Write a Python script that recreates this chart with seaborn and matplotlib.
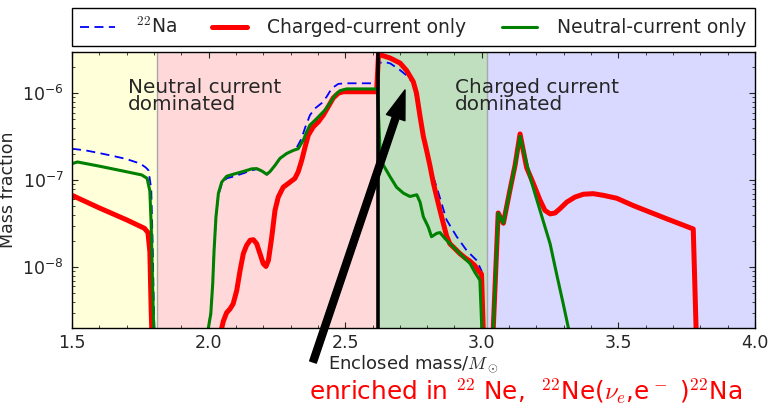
import matplotlib
matplotlib.use("Agg")
import matplotlib.pyplot as plt
import seaborn as sns
import numpy as np

# ---------------- data ----------------
na_mass = [1.50, 1.55, 1.60, 1.65, 1.70, 1.75, 1.77, 1.78, 1.79, 1.795, 1.80, 1.805, 1.81,
           1.99, 2.000, 2.008, 2.015, 2.020, 2.027, 2.036, 2.048, 2.066, 2.090, 2.127, 2.158,
           2.176, 2.194, 2.213, 2.225, 2.243, 2.261, 2.286, 2.310, 2.322, 2.340, 2.353, 2.371,
           2.390, 2.414, 2.432, 2.451, 2.475, 2.50, 2.615, 2.622, 2.64,
           2.665, 2.70, 2.725, 2.749, 2.768, 2.786, 2.804, 2.822, 2.835, 2.871, 2.908, 2.945,
           2.981, 2.999, 3.005, 3.01, 3.035, 3.042, 3.060, 3.079, 3.103, 3.122, 3.140, 3.164,
           3.189, 3.213, 3.231, 3.250, 3.268, 3.286, 3.311, 3.341, 3.372, 3.408, 3.445, 3.494,
           3.555, 3.677, 3.774, 3.787, 3.79, 4.0]
na_frac = [2.3e-7, 2.2e-7, 2.05e-7, 1.9e-7, 1.75e-7, 1.55e-7, 1.4e-7, 1.3e-7, 8e-8, 2e-8, 3e-9, 1e-9, 1e-12,
           1e-12, 2.0e-9, 3.2e-9, 7e-9, 1.6e-8, 3.8e-8, 6.8e-8, 9.0e-8, 1.05e-7, 1.1e-7, 1.2e-7, 1.3e-7,
           1.34e-7, 1.27e-7, 1.16e-7, 1.25e-7, 1.47e-7, 1.77e-7, 2.03e-7, 2.2e-7, 2.35e-7, 3.0e-7, 4.0e-7, 5.6e-7,
           6.7e-7, 7.7e-7, 9.1e-7, 1.14e-6, 1.28e-6, 1.3e-6, 1.3e-6, 2.2e-6, 2.3e-6,
           2.2e-6, 1.85e-6, 1.6e-6, 1.3e-6, 6.5e-7, 3.2e-7, 1.9e-7, 1.1e-7, 8.3e-8, 3.5e-8, 2.25e-8, 1.55e-8,
           1.2e-8, 9.1e-9, 2e-9, 1e-12, 1e-12, 2e-9, 4.2e-8, 3.2e-8, 7.7e-8, 1.5e-7, 3.4e-7, 1.4e-7,
           9.1e-8, 5.9e-8, 4.5e-8, 4.1e-8, 4.2e-8, 4.7e-8, 5.6e-8, 6.3e-8, 6.8e-8, 6.9e-8, 6.6e-8, 6.1e-8,
           5.1e-8, 3.6e-8, 2.75e-8, 1e-9, 1e-12, 1e-12]

cc_mass = [1.50, 1.60, 1.70, 1.765, 1.778, 1.785, 1.79, 1.795, 1.80,
           2.04, 2.048, 2.054, 2.066, 2.078, 2.090, 2.103, 2.115, 2.127, 2.139, 2.152, 2.164,
           2.176, 2.188, 2.200, 2.210, 2.219, 2.231, 2.243, 2.255, 2.273, 2.298, 2.316, 2.328,
           2.341, 2.353, 2.365, 2.383, 2.402, 2.420, 2.438, 2.456, 2.475, 2.493, 2.52, 2.615,
           2.622, 2.627, 2.664, 2.701, 2.725, 2.749, 2.761, 2.774, 2.786, 2.798, 2.810, 2.822,
           2.835, 2.847, 2.859, 2.871, 2.883, 2.902, 2.920, 2.939, 2.957, 2.975, 2.987, 2.999,
           3.005, 3.012, 3.035, 3.042, 3.060, 3.079, 3.103,
           3.122, 3.140, 3.164, 3.189, 3.213, 3.231, 3.250, 3.268, 3.286, 3.311, 3.341, 3.372,
           3.408, 3.445, 3.494, 3.555, 3.677, 3.774, 3.787, 3.79, 4.0]
cc_frac = [6.7e-8, 4.8e-8, 3.5e-8, 2.8e-8, 2.5e-8, 1.5e-8, 3e-9, 1e-9, 1e-12,
           1e-12, 2.0e-9, 2.4e-9, 3.0e-9, 3.3e-9, 3.8e-9, 5.4e-9, 9.1e-9, 1.43e-8, 1.78e-8, 2.04e-8, 2.07e-8,
           1.86e-8, 1.43e-8, 1.1e-8, 1.02e-8, 1.2e-8, 2.2e-8, 4.5e-8, 6.4e-8, 8.3e-8, 9.5e-8, 1.05e-7, 1.25e-7,
           1.7e-7, 2.4e-7, 3.3e-7, 4.1e-7, 4.7e-7, 5.6e-7, 7.0e-7, 8.8e-7, 1.0e-6, 1.04e-6, 1.04e-6, 1.04e-6,
           2.8e-6, 2.77e-6, 2.54e-6, 2.22e-6, 1.82e-6, 1.36e-6, 1.0e-6, 5.4e-7, 3.2e-7, 2.2e-7, 1.48e-7, 9.5e-8,
           6.4e-8, 4.5e-8, 3.2e-8, 2.3e-8, 1.86e-8, 1.63e-8, 1.43e-8, 1.28e-8, 1.17e-8, 1.04e-8, 9.1e-9, 8.3e-9,
           2e-9, 1e-12, 1e-12, 2e-9, 4.2e-8, 3.2e-8, 7.7e-8,
           1.5e-7, 3.4e-7, 1.4e-7, 9.1e-8, 5.9e-8, 4.5e-8, 4.1e-8, 4.2e-8, 4.7e-8, 5.6e-8, 6.4e-8, 6.9e-8,
           7.0e-8, 6.7e-8, 6.2e-8, 5.1e-8, 3.6e-8, 2.75e-8, 1e-9, 1e-12, 1e-12]

nc_mass = [1.50, 1.52, 1.60, 1.70, 1.755, 1.775, 1.785, 1.79, 1.795, 1.80, 1.805,
           1.99, 1.999, 2.008, 2.015, 2.020, 2.027, 2.036, 2.048, 2.066, 2.090, 2.127, 2.158,
           2.176, 2.194, 2.213, 2.225, 2.243, 2.261, 2.286, 2.310, 2.328, 2.347, 2.359, 2.371,
           2.390, 2.408, 2.426, 2.444, 2.463, 2.481, 2.505, 2.609, 2.618, 2.628, 2.634,
           2.664, 2.688, 2.713, 2.737, 2.762, 2.774, 2.786, 2.804, 2.816, 2.835, 2.847, 2.865,
           2.896, 2.920, 2.957, 2.975, 2.993, 3.000, 3.005, 3.035, 3.042, 3.060, 3.079, 3.103,
           3.122, 3.140, 3.176, 3.213, 3.250, 3.274, 3.298, 3.317, 3.33, 4.0]
nc_frac = [1.55e-7, 1.62e-7, 1.45e-7, 1.25e-7, 1.15e-7, 1.05e-7, 7.5e-8, 3e-8, 6e-9, 1.5e-9, 1e-12,
           1e-12, 2e-9, 2.9e-9, 6.4e-9, 1.55e-8, 3.8e-8, 7.1e-8, 9.5e-8, 1.11e-7, 1.17e-7, 1.26e-7, 1.35e-7,
           1.36e-7, 1.28e-7, 1.17e-7, 1.26e-7, 1.48e-7, 1.78e-7, 2.03e-7, 2.2e-7, 2.3e-7, 2.9e-7, 3.6e-7, 4.3e-7,
           4.9e-7, 5.6e-7, 6.4e-7, 7.7e-7, 9.5e-7, 1.07e-6, 1.12e-6, 1.12e-6, 1.12e-6, 2.0e-7, 1.6e-7,
           1.1e-7, 8.3e-8, 7.1e-8, 6.5e-8, 6.8e-8, 5.6e-8, 3.8e-8, 2.9e-8, 2.24e-8, 2.45e-8, 2.5e-8, 2.14e-8,
           1.7e-8, 1.43e-8, 1.1e-8, 8.7e-9, 7.1e-9, 2e-9, 1e-12, 1e-12, 2e-9, 4.2e-8, 3.2e-8, 7.7e-8,
           1.5e-7, 3.2e-7, 1.1e-7, 4.5e-8, 1.86e-8, 8.3e-9, 3.8e-9, 2e-9, 1e-12, 1e-12]

labels = [r"$^{22}$Na", "Charged-current only", "Neutral-current only"]
region_edges = [1.5, 1.81, 2.62, 3.02, 4.0]
region_colors = ["yellow", "red", "green", "blue"]
region_alpha = [0.15, 0.15, 0.25, 0.15]
region_texts = ["Neutral current\ndominated", "Charged current\ndominated"]
region_text_x = [1.705, 2.902]
xticks = [1.5, 2.0, 2.5, 3.0, 3.5, 4.0]

# ---------------- style ----------------
sns.set_style("ticks")
plt.rcParams["font.family"] = ["DejaVu Sans"]
plt.rcParams["mathtext.fontset"] = "cm"
plt.rcParams["xtick.direction"] = "in"
plt.rcParams["ytick.direction"] = "in"

W, H = 775, 408
fig = plt.figure(figsize=(W / 100, H / 100), dpi=100)
ax = fig.add_axes([72 / W, 1 - 328 / H, (755 - 72) / W, (328 - 51.7) / H])
ax.set_yscale("log")

for i in range(4):
    ax.axvspan(region_edges[i], region_edges[i + 1], color=region_colors[i],
               alpha=region_alpha[i], lw=0, zorder=0)
for xb in [1.81, 3.02]:
    ax.axvline(xb, color="#a8a8a8", lw=1.0, zorder=0.5)

sns.lineplot(x=na_mass, y=na_frac, ax=ax, color="blue", lw=1.3,
             linestyle=(0, (5, 3)), sort=False, estimator=None, label=labels[0])
sns.lineplot(x=cc_mass, y=cc_frac, ax=ax, color="red", lw=3.6,
             sort=False, estimator=None, label=labels[1])
sns.lineplot(x=nc_mass, y=nc_frac, ax=ax, color="green", lw=2.2,
             sort=False, estimator=None, label=labels[2])

ax.axvline(2.62, color="black", lw=2.6, zorder=5)

ax.set_xlim(1.5, 4.0)
ax.set_ylim(2e-9, 3e-6)
ax.set_xticks(xticks)
ax.set_xticklabels([f"{v:.1f}" for v in xticks])
ax.xaxis.set_minor_locator(matplotlib.ticker.MultipleLocator(0.1))
ax.tick_params(which="both", top=True, right=True, direction="in")
ax.tick_params(which="major", length=4, width=0.8)
ax.tick_params(which="minor", length=2.4, width=0.6)
ax.tick_params(axis="x", which="major", labelsize=12.5, pad=4)
ax.tick_params(axis="y", which="major", labelsize=12.5, pad=6)
for s in ax.spines.values():
    s.set_linewidth(1.0)
    s.set_color("black")

ax.set_xlabel(r"Enclosed mass/$M_\odot$", fontsize=13, labelpad=2)
ax.set_ylabel("Mass fraction", fontsize=12.5, labelpad=4)

for t, x in zip(region_texts, region_text_x):
    ax.text(x, 1.5e-6, t, fontsize=14.4, va="top", ha="left", linespacing=0.85, zorder=6)

ax.annotate("", xy=(2.719, 1.09e-6), xytext=(313 / W, 1 - 362 / H),
            textcoords="figure fraction", annotation_clip=False,
            arrowprops=dict(facecolor="black", edgecolor="black", width=5,
                            headwidth=14, headlength=21, shrink=0), zorder=7)

fig.text(526 / W, 1 - 400 / H,
         r"enriched in $^{22}$ Ne,  $^{22}$Ne($\nu_e$,e$^-$ )$^{22}$Na",
         color="red", fontsize=17.8, ha="center", va="baseline")

def make_legend(colsp):
    lg = ax.legend(loc="lower center", bbox_to_anchor=(0.5, 1.022),
                   ncol=3, fancybox=False, edgecolor="black", fontsize=13.5,
                   borderaxespad=0, handlelength=1.85, handletextpad=1.1,
                   columnspacing=colsp, borderpad=0.45, framealpha=1)
    lg.get_frame().set_linewidth(1.0)
    return lg

colsp = 1.7
leg = make_legend(colsp)
fig.canvas.draw()
w = leg.get_window_extent().width
fs_px = 13.5 * 100 / 72
colsp = max(0.2, colsp + (683 - w) / 2 / fs_px)
leg = make_legend(colsp)

fig.savefig("out.png", dpi=100)
